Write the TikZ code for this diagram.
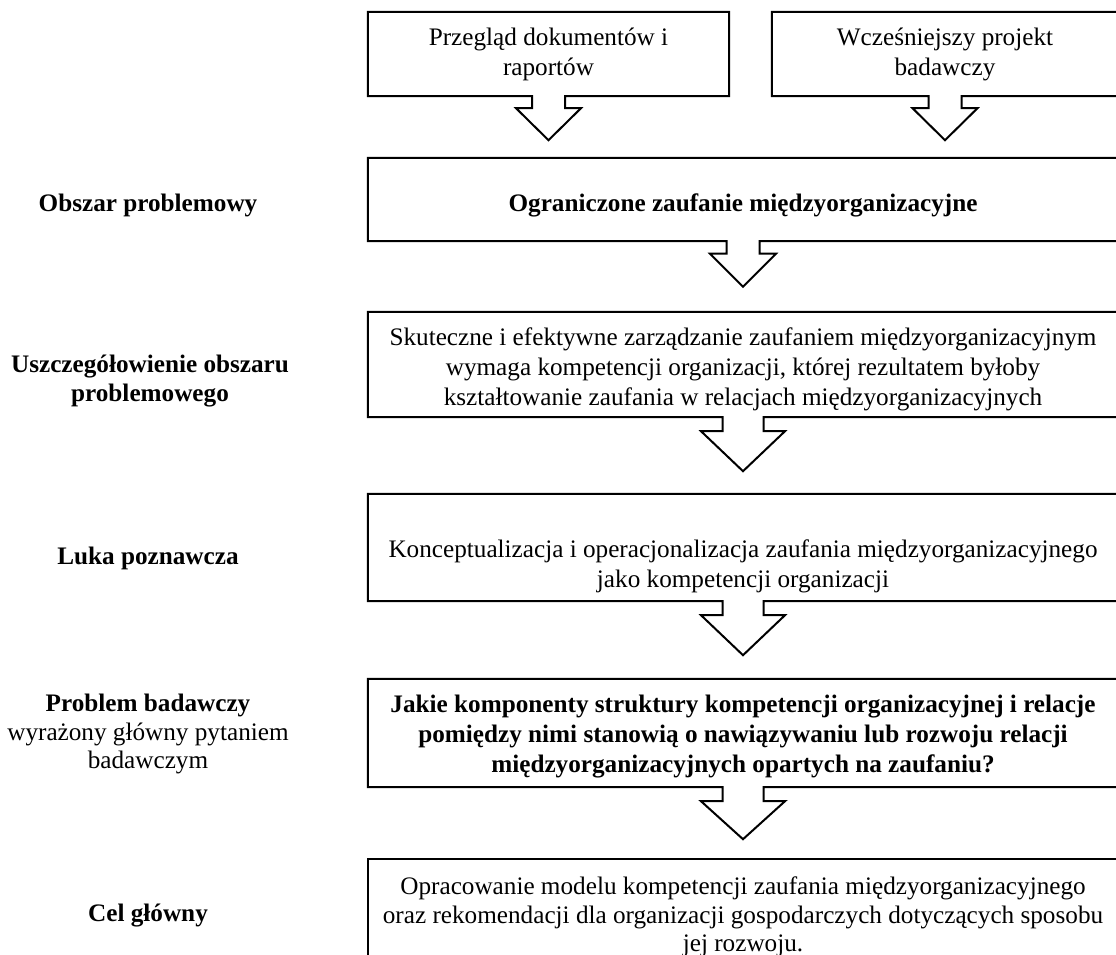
\documentclass[tikz,border=0pt]{standalone}
\usepackage{fontspec}
\setmainfont{Liberation Serif}
\usetikzlibrary{calc}
\tikzset{
  outline/.style={line width=2pt, line join=miter},
  frame/.style={draw=none, inner sep=0pt},
  boxtext/.style={align=center, inner sep=0pt,
    font=\fontsize{25.2pt}{30pt}\selectfont},
  sidelabel/.style={align=center, inner sep=0pt,
    font=\fontsize{25.2pt}{28.5pt}\selectfont},
}
% frame of a box with a hollow down arrow under it
% #1 node, #2 shaft half width, #3 head half width, #4 shaft length, #5 head length
\newcommand{\calloutframe}[5]{%
  \draw[outline] (#1.south west) -- (#1.north west) -- (#1.north east) -- (#1.south east)
    -- ($(#1.south)+(#2,0)$) -- ($(#1.south)+(#2,#4)$) -- ($(#1.south)+(#3,#4)$)
    -- ($(#1.south)+(0,{#4+#5})$)
    -- ($(#1.south)+(-#3,#4)$) -- ($(#1.south)+(-#2,#4)$) -- ($(#1.south)+(-#2,0)$) -- cycle;}
\begin{document}
\begin{tikzpicture}[x=1pt,y=-1pt]
\clip (0,0) rectangle (1116,955);
\fill[white] (0,0) rectangle (1116,955);

% frames
\node[frame, minimum width=361pt, minimum height=84pt] (src1) at (548.5,54) {};
\node[frame, minimum width=346pt, minimum height=84pt] (src2) at (945,54) {};
\node[frame, minimum width=750pt, minimum height=83pt] (area) at (743,199.5) {};
\node[frame, minimum width=750pt, minimum height=105pt] (detail) at (743,364.5) {};
\node[frame, minimum width=750pt, minimum height=107pt] (gap) at (743,547.5) {};
\node[frame, minimum width=750pt, minimum height=108pt] (question) at (743,733) {};
\node[frame, minimum width=750pt, minimum height=140pt] (goal) at (743,929) {};

\calloutframe{src1}{16.5}{32.5}{12}{32}
\calloutframe{src2}{16.5}{32.5}{12}{32}
\calloutframe{area}{16.5}{33}{12.5}{33}
\calloutframe{detail}{20.5}{42}{14}{40}
\calloutframe{gap}{20.5}{42}{14}{40}
\calloutframe{question}{20.5}{42}{14}{38}
\draw[outline] (goal.south west) -- (goal.north west) -- (goal.north east) -- (goal.south east);

% box texts
\node[boxtext] (t-src1) at (548.5,54) {Przegląd dokumentów i\\raportów};
\node[boxtext] (t-src2) at (945,54) {Wcześniejszy projekt\\badawczy};
\node[boxtext, font=\fontsize{25.2pt}{30pt}\selectfont\bfseries] (t-area) at (743,205.5)
  {Ograniczone zaufanie międzyorganizacyjne};
\node[boxtext] (t-detail) at (743,369)
  {Skuteczne i efektywne zarządzanie zaufaniem międzyorganizacyjnym\\
   wymaga kompetencji organizacji, której rezultatem byłoby\\
   kształtowanie zaufania w relacjach międzyorganizacyjnych};
\node[boxtext] (t-gap) at (743,566)
  {Konceptualizacja i operacjonalizacja zaufania międzyorganizacyjnego\\
   jako kompetencji organizacji};
\node[boxtext, font=\fontsize{25.2pt}{30pt}\selectfont\bfseries] (t-question) at (743,737)
  {Jakie komponenty struktury kompetencji organizacyjnej i relacje\\
   pomiędzy nimi stanowią o nawiązywaniu lub rozwoju relacji\\
   międzyorganizacyjnych opartych na zaufaniu?};
\node[boxtext, font=\fontsize{25.2pt}{28.5pt}\selectfont] (t-goal) at (743,917)
  {Opracowanie modelu kompetencji zaufania międzyorganizacyjnego\\
   oraz rekomendacji dla organizacji gospodarczych dotyczących sposobu\\
   jej rozwoju.};

% side labels
\node[sidelabel] (l1) at (148,205) {\bfseries Obszar problemowy};
\node[sidelabel] (l2) at (150,381) {\bfseries Uszczegółowienie obszaru\\\bfseries problemowego};
\node[sidelabel] (l3) at (148,558) {\bfseries Luka poznawcza};
\node[sidelabel] (l4) at (148,734) {\bfseries Problem badawczy\\wyrażony główny pytaniem\\badawczym};
\node[sidelabel] (l5) at (148,916) {\bfseries Cel główny};
\end{tikzpicture}
\end{document}
